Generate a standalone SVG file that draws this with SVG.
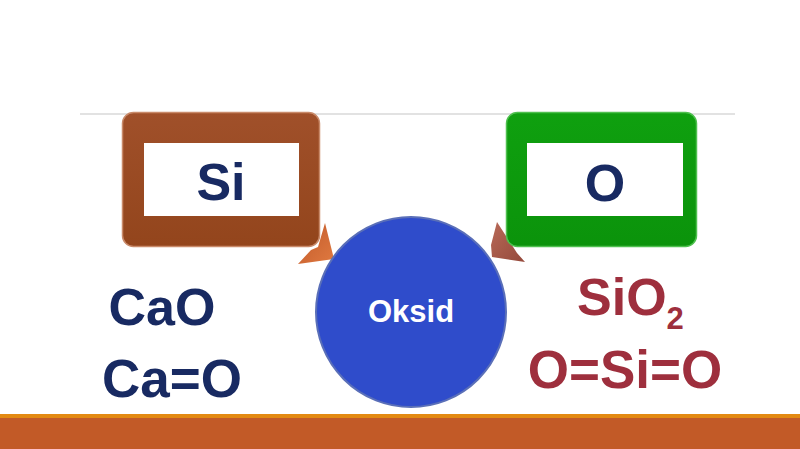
<svg xmlns="http://www.w3.org/2000/svg" width="800" height="449" viewBox="0 0 800 449">
<defs>
<linearGradient id="gBrown" x1="0" y1="0" x2="0" y2="1">
<stop offset="0" stop-color="#a0502a"/>
<stop offset="1" stop-color="#93451c"/>
</linearGradient>
<linearGradient id="gGreen" x1="0" y1="0" x2="0" y2="1">
<stop offset="0" stop-color="#0fa00f"/>
<stop offset="1" stop-color="#0b930b"/>
</linearGradient>
<linearGradient id="gArrL" x1="0" y1="0" x2="1" y2="1">
<stop offset="0" stop-color="#c0582a"/>
<stop offset="1" stop-color="#e07a40"/>
</linearGradient>
<linearGradient id="gArrR" x1="0" y1="0" x2="1" y2="1">
<stop offset="0" stop-color="#b86a58"/>
<stop offset="1" stop-color="#94483a"/>
</linearGradient>
<style>
.t{font-family:"Liberation Sans",Arial,sans-serif;font-weight:bold;}
.navy{fill:#182a62;}
.maroon{fill:#9e2f3d;}
.inner{fill:#ffffff;}
</style>
</defs>
<rect width="800" height="449" fill="#ffffff"/>
<line x1="80" y1="114" x2="735" y2="114" stroke="#e2e2e2" stroke-width="2"/>
<rect x="0" y="414" width="800" height="35" fill="#c25a27"/>
<rect x="0" y="414" width="800" height="4" fill="#e38a12"/>
<g id="connectors">
<polygon points="325,223 334,259 298,264 311,250 318,247" fill="url(#gArrL)"/>
<polygon points="497,222 517,253 525,262 492,257 491,245" fill="url(#gArrR)"/>
</g>
<g id="node-si">
<rect x="122.5" y="112.5" width="197" height="134" rx="11" fill="url(#gBrown)" stroke="#c98a6a" stroke-width="1.5"/>
<rect class="inner" x="144" y="143" width="155" height="73"/>
<text class="t navy" x="221" y="200" font-size="52" text-anchor="middle">Si</text>
</g>
<g id="node-o">
<rect x="506.5" y="112.5" width="190" height="134" rx="11" fill="url(#gGreen)" stroke="#4fc04f" stroke-width="1.5"/>
<rect class="inner" x="527" y="143" width="156" height="73"/>
<text class="t navy" x="605" y="201" font-size="52" text-anchor="middle">O</text>
</g>
<g id="node-oksid">
<circle cx="411" cy="312" r="95" fill="#2f4ccb" stroke="#5a6fb8" stroke-width="2"/>
<text class="t" x="411" y="322" font-size="31" text-anchor="middle" fill="#ffffff">Oksid</text>
</g>
<g id="left-text">
<text class="t navy" x="162" y="325" font-size="52" text-anchor="middle">CaO</text>
<text class="t navy" x="172" y="397" font-size="53" text-anchor="middle">Ca=O</text>
</g>
<g id="right-text">
<text class="t maroon" x="577" y="315" font-size="52">SiO<tspan font-size="31" dy="14">2</tspan></text>
<text class="t maroon" x="625" y="388" font-size="53" text-anchor="middle">O=Si=O</text>
</g>
</svg>
